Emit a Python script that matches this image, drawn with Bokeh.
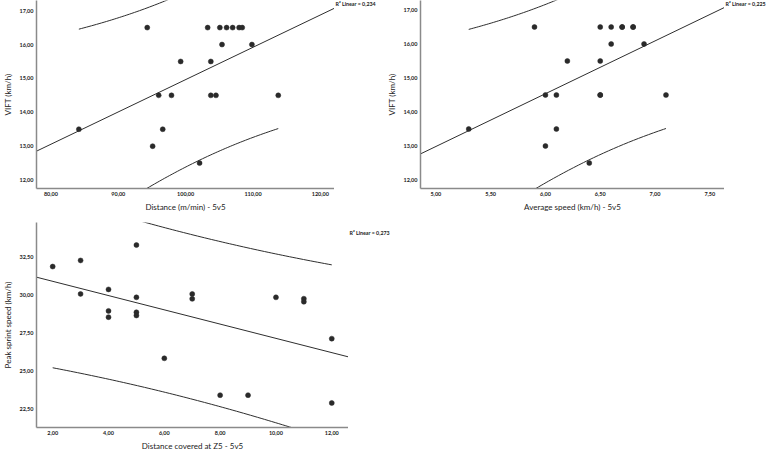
import numpy as np
from bokeh.plotting import figure
from bokeh.models import Range1d, FixedTicker, Label
from bokeh.layouts import column, row
from bokeh.embed import file_html
from bokeh.resources import INLINE

# ---------------- data ----------------
# Panel 1: Distance (m/min) vs VIFT
dist_5v5 = [84.15, 94.3, 95.1, 96.0, 96.6, 97.9, 99.26, 102.07, 103.27, 103.74,
            103.74, 104.5, 105.08, 105.4, 106.08, 106.98, 107.94, 108.4, 109.84, 113.75]
vift_a = [13.5, 16.5, 13.0, 14.5, 13.5, 14.5, 15.5, 12.5, 16.5, 15.5,
          14.5, 14.5, 16.5, 16.0, 16.5, 16.5, 16.5, 16.5, 16.0, 14.5]

# Panel 2: Average speed (km/h) vs VIFT
avg_speed_5v5 = [5.3, 5.9, 6.0, 6.0, 6.1, 6.1, 6.2, 6.4, 6.5, 6.5,
                 6.5, 6.5, 6.6, 6.6, 6.7, 6.7, 6.8, 6.8, 6.9, 7.1]
vift_b = [13.5, 16.5, 13.0, 14.5, 13.5, 14.5, 15.5, 12.5, 16.5, 15.5,
          14.5, 14.5, 16.5, 16.0, 16.5, 16.5, 16.5, 16.5, 16.0, 14.5]

# Panel 3: Distance covered at Z5 vs Peak sprint speed
z5_5v5 = [2, 3, 3, 4, 4, 4, 5, 5, 5, 5, 6, 7, 7, 8, 9, 10, 11, 11, 12, 12]
peak_sprint = [31.86, 32.26, 30.06, 30.36, 28.95, 28.54, 33.27, 29.84, 28.86, 28.65,
               25.84, 30.06, 29.74, 23.42, 23.42, 29.84, 29.75, 29.55, 27.13, 22.91]

# tick values / labels
x1_ticks = [80, 90, 100, 110, 120]
x1_labels = ["80,00", "90,00", "100,00", "110,00", "120,00"]
vift_ticks = [12, 13, 14, 15, 16, 17]
vift_labels = ["12,00", "13,00", "14,00", "15,00", "16,00", "17,00"]
x2_ticks = [5.0, 5.5, 6.0, 6.5, 7.0, 7.5]
x2_labels = ["5,00", "5,50", "6,00", "6,50", "7,00", "7,50"]
x3_ticks = [2, 4, 6, 8, 10, 12]
x3_labels = ["2,00", "4,00", "6,00", "8,00", "10,00", "12,00"]
y3_ticks = [22.5, 25.0, 27.5, 30.0, 32.5]
y3_labels = ["22,50", "25,00", "27,50", "30,00", "32,50"]

r2_labels = ["R\u00b2 Linear = 0,234", "R\u00b2 Linear = 0,225", "R\u00b2 Linear = 0,273"]

# t critical values (95 %, two-sided) by degrees of freedom
T_CRIT = {17: 2.110, 18: 2.101, 19: 2.093, 20: 2.086}

FONT = "Lato"
DOT = "#2a2a2a"
LINE = "#2e2e2e"
AXIS = "#8a8a8a"


def make_panel(x, y, xr, yr, xt, xl, yt, yl, xtitle, ytitle, width, height, bl, bt, bb):
    p = figure(width=width, height=height,
               x_range=Range1d(*xr), y_range=Range1d(*yr),
               output_backend="svg", toolbar_location=None,
               min_border_left=bl, min_border_right=0,
               min_border_top=bt, min_border_bottom=bb)
    p.grid.visible = False
    p.outline_line_color = None
    p.background_fill_color = "white"
    p.border_fill_color = "white"

    for ax, ticks, labels, title in ((p.xaxis[0], xt, xl, xtitle), (p.yaxis[0], yt, yl, ytitle)):
        ax.ticker = FixedTicker(ticks=ticks)
        ax.major_label_overrides = {float(t): s for t, s in zip(ticks, labels)}
        ax.axis_line_color = AXIS
        ax.axis_line_width = 1.5
        ax.major_tick_out = 0
        ax.major_tick_in = 0
        ax.minor_tick_out = 0
        ax.minor_tick_in = 0
        ax.major_label_text_font = FONT
        ax.major_label_text_font_style = "bold"
        ax.major_label_text_font_size = "5.5px"
        ax.major_label_text_color = "#222222"
        ax.major_label_standoff = 3
        ax.axis_label = title
        ax.axis_label_text_font = FONT
        ax.axis_label_text_font_style = "normal"
        ax.axis_label_text_font_size = "8px"
        ax.axis_label_text_color = "#222222"
        ax.axis_label_standoff = 3

    xa = np.asarray(x, dtype=float)
    ya = np.asarray(y, dtype=float)
    n = len(xa)
    slope, intercept = np.polyfit(xa, ya, 1)
    resid = ya - (intercept + slope * xa)
    s = np.sqrt(np.sum(resid ** 2) / (n - 2))
    xbar = xa.mean()
    sxx = np.sum((xa - xbar) ** 2)
    t = T_CRIT[n - 2]

    # fit line across the plotting area
    fx = np.array([xr[0], xr[1]])
    p.line(fx, intercept + slope * fx, line_color=LINE, line_width=1)

    # 95% prediction interval for individual values
    cx = np.linspace(xa.min(), xa.max(), 80)
    half = t * s * np.sqrt(1 + 1 / n + (cx - xbar) ** 2 / sxx)
    cy = intercept + slope * cx
    p.line(cx, cy + half, line_color=LINE, line_width=1)
    p.line(cx, cy - half, line_color=LINE, line_width=1)

    p.scatter(x, y, size=5, fill_color=DOT, line_color=DOT, line_width=0.5)
    return p


def note_panel(text, width, height, top_px):
    """Narrow strip to the right of a panel holding the R² note."""
    q = figure(width=width, height=height,
               x_range=Range1d(0, width), y_range=Range1d(0, height),
               output_backend="svg", toolbar_location=None,
               min_border_left=0, min_border_right=0,
               min_border_top=0, min_border_bottom=0)
    q.axis.visible = False
    q.grid.visible = False
    q.outline_line_color = None
    q.background_fill_color = "white"
    q.border_fill_color = "white"
    q.add_layout(Label(x=1, y=height - top_px, text=text,
                       text_baseline="middle", text_align="left",
                       text_font=FONT, text_font_style="bold",
                       text_font_size="5.3px", text_color="#222222"))
    return q


p1 = make_panel(dist_5v5, vift_a, (77.86, 122.1), (11.75, 17.30),
                x1_ticks, x1_labels, vift_ticks, vift_labels,
                "Distance (m/min) - 5v5", "VIFT (km/h)",
                width=334, height=214, bl=28, bt=0, bb=25)
n1 = note_panel(r2_labels[0], 48, 214, 4)

p2 = make_panel(avg_speed_5v5, vift_b, (4.86, 7.634), (11.75, 17.28),
                x2_ticks, x2_labels, vift_ticks, vift_labels,
                "Average speed (km/h) - 5v5", "VIFT (km/h)",
                width=342, height=214, bl=38, bt=0, bb=25)
n2 = note_panel(r2_labels[1], 43, 214, 4)

p3 = make_panel(z5_5v5, peak_sprint, (1.42, 12.6), (21.3, 34.75),
                x3_ticks, x3_labels, y3_ticks, y3_labels,
                "Distance covered at Z5 - 5v5", "Peak sprint speed (km/h)",
                width=348, height=239, bl=28, bt=8, bb=23)
n3 = note_panel(r2_labels[2], 52, 239, 12)

layout = column(row(p1, n1, p2, n2), row(p3, n3))
open("out.html", "w").write(file_html(layout, INLINE))
